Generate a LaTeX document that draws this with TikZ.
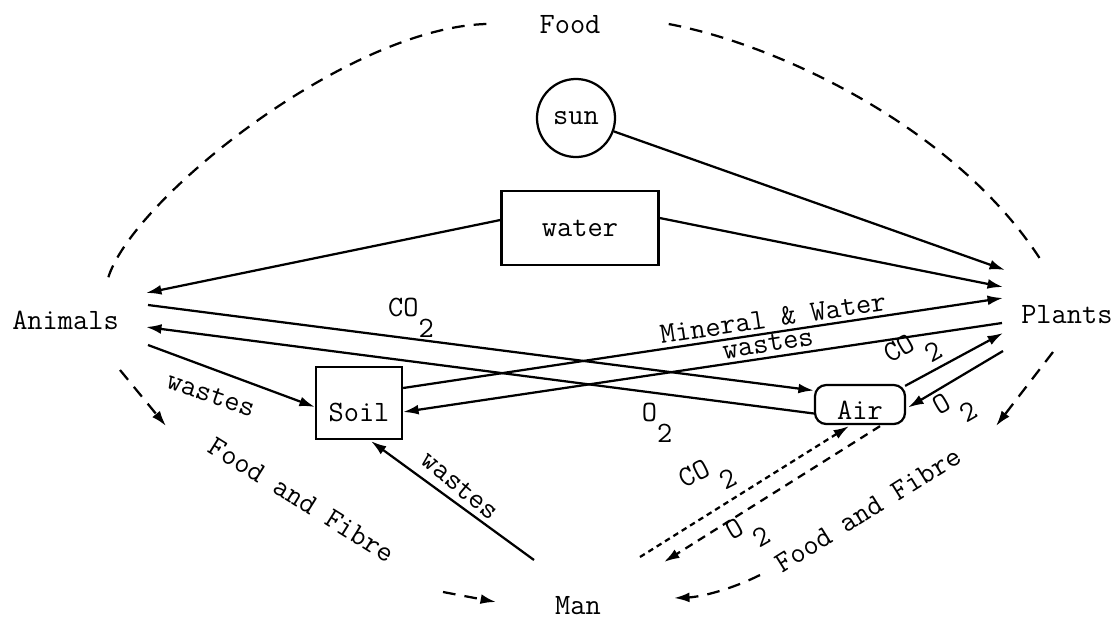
\documentclass[tikz,border=0pt]{standalone}
\usepackage{fontspec}
\usetikzlibrary{arrows.meta}
\newcommand{\subtwo}{\raisebox{-0.7em}{2}}
\begin{document}
\begin{tikzpicture}[x=0.025cm,y=-0.025cm,
  every node/.style={font=\ttfamily\fontsize{21}{23}\selectfont, inner sep=0pt},
  flow/.style={line width=1.6pt, -{Latex[length=11pt,width=7pt]}},
  ddash/.style={line width=1.6pt, dash pattern=on 9pt off 6.5pt},
  dflow/.style={ddash, -{Latex[length=11pt,width=7pt]}},
  fineflow/.style={line width=1.6pt, dash pattern=on 4pt off 3pt, -{Latex[length=11pt,width=7pt]}},
  midflow/.style={line width=1.6pt, dash pattern=on 6pt off 4.5pt, -{Latex[length=11pt,width=7pt]}},
  box/.style={draw, line width=1.6pt},
]
\useasboundingbox (0,0) rectangle (1120,620);

% main nodes
\node (food) at (570,25) {Food};
\node[box, circle, minimum size=1.95cm] (sun) at (576,118) {sun};
\node[box, minimum width=3.925cm, minimum height=1.85cm] (water) at (580,228) {water};
\node[anchor=east] (animals) at (119,320) {Animals};
\node[anchor=west] (plants) at (1021,315) {Plants};
\node (man) at (578,606) {Man};
\node[box, minimum width=2.15cm, minimum height=1.8cm, text height=27pt, text depth=0pt] (soil) at (359,403) {Soil};
\node[box, rounded corners=8pt, minimum width=2.25cm, minimum height=0.975cm, text height=22pt, text depth=0pt] (air) at (860,404.5) {Air};

% labels
\node (co2a) at (411,318) {CO\subtwo};
\node (o2a) at (657,423) {O\subtwo};
\node[rotate=-19] (wastesA) at (211,395) {wastes};
\node[rotate=8.5] (mineral) at (773,318) {Mineral \& Water};
\node[rotate=9] (wastesB) at (768,344) {wastes};
\node[rotate=30] (co2b) at (913,352) {CO\,\subtwo};
\node[rotate=30] (o2b) at (955,408) {O\,\subtwo};
\node[rotate=-40] (wastesC) at (460,486) {wastes};
\node[rotate=27] (co2c) at (708,478) {CO\,\subtwo};
\node[rotate=30] (o2c) at (748,533) {O\,\subtwo};
\node[rotate=-32] (ffl) at (302,500) {Food and Fibre};
\node[rotate=32] (ffr) at (868,510) {Food and Fibre};

% solid flows
\draw[flow] (sun) -- ([shift={(-16,-45)}]plants.west);
\draw[flow] ([shift={(0,-10)}]water.east) -- ([shift={(-18,-28)}]plants.west);
\draw[flow] ([shift={(0,-8)}]water.west) -- ([shift={(27,-27)}]animals.east);
\draw[flow] ([shift={(29,-15)}]animals.east) -- ([shift={(0,-14)}]air.west);
\draw[flow] ([shift={(0,9)}]air.west) -- ([shift={(27,7)}]animals.east);
\draw[flow] ([shift={(29,25)}]animals.east) -- ([shift={(0,4)}]soil.west);
\draw[flow] ([shift={(0,-15)}]soil.east) -- ([shift={(-18,-17)}]plants.west);
\draw[flow] ([shift={(-19,8)}]plants.west) -- ([shift={(0,9)}]soil.east);
\draw[flow] ([shift={(-1,2)}]air.north east) -- ([shift={(-18,18)}]plants.west);
\draw[flow] ([shift={(-18,36)}]plants.west) -- ([shift={(2,3)}]air.east);
\draw[flow] ([shift={(-44,-46)}]man.center) -- ([shift={(12,1)}]soil.south);

% dashed flows
\draw[fineflow] ([shift={(62,-49)}]man.center) -- ([shift={(-11,1)}]air.south);
\draw[midflow] ([shift={(20,1)}]air.south) -- ([shift={(86,-44)}]man.center);

\draw[ddash] ([shift={(-53,-1)}]food.west) .. controls (345,28) and (125,205) .. ([shift={(-12,-38)}]animals.east);
\draw[ddash] ([shift={(68,-1)}]food.east) .. controls (780,45) and (960,130) .. ([shift={(23,-50)}]plants.west);

\draw[dflow] ([shift={(1,50)}]animals.east) -- ([shift={(-136,-74)}]ffl.center);
\draw[dflow] ([shift={(141,92)}]ffl.center) -- ([shift={(-82,-4)}]man.center);
\draw[dflow] ([shift={(32,37)}]plants.west) -- ([shift={(128,-84)}]ffr.center);
\draw[dflow] ([shift={(-108,65)}]ffr.center) .. controls (730,590) and (700,597) .. ([shift={(96,-8)}]man.center);
\end{tikzpicture}
\end{document}
